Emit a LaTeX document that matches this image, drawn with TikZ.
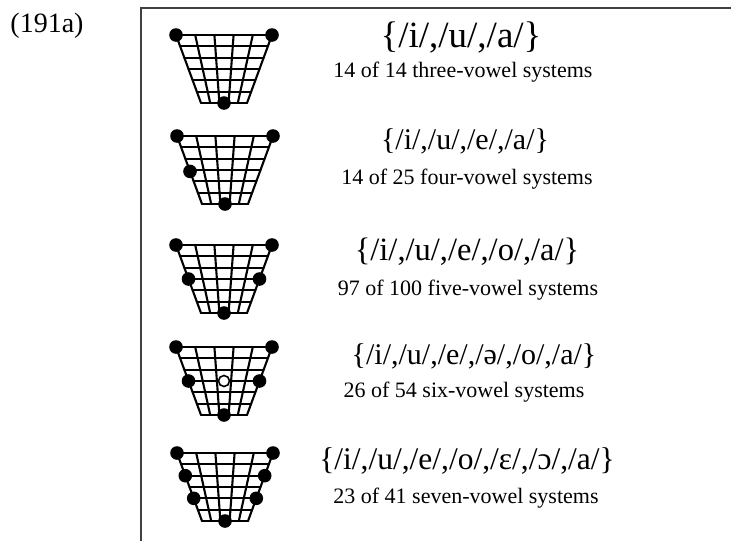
\documentclass[tikz,border=0pt]{standalone}
\usepackage{fontspec}
\setmainfont{Liberation Serif}
\newcommand\vowelgrid[2]{%
  \begin{scope}[shift={(#1,#2)}]
    \foreach \i in {0,...,6} {
      \draw[gridline] ({-48+25*\i/6},{68*\i/6}) -- ({48-25*\i/6},{68*\i/6});
    }
    \foreach \j in {0,...,5} {
      \draw[gridline] ({-48+96*\j/5},0) -- ({-23+46*\j/5},68);
    }
    \fill[vdot] (-48,0) circle (6.8);
    \fill[vdot] (48,0) circle (6.8);
    \fill[vdot] (0,68) circle (6.8);
  \end{scope}}
\begin{document}
\begin{tikzpicture}[x=1pt,y=-1pt,
  gridline/.style={line width=2.1pt,black,line cap=round},
  vdot/.style={black},
  odot/.style={fill=white,draw=black,line width=1.6pt},
  frameline/.style={line width=2pt,black!75},
  settitle/.style={anchor=base,font=\fontsize{30}{30}\selectfont,inner sep=0pt},
  setsub/.style={anchor=base,font=\fontsize{22}{22}\selectfont,inner sep=0pt},
  label/.style={anchor=base,font=\fontsize{28}{28}\selectfont,inner sep=0pt}]
\useasboundingbox (0,0) rectangle (731,541);
\fill[white] (0,0) rectangle (731,541);
\coordinate (fb) at (141,541);
\coordinate (ftl) at (141,8);
\coordinate (fr) at (731,8);
\draw[frameline] (fb) -- (ftl) -- (fr);
\node[label] (lab) at (47,32) {(191a)};

% row 1
\vowelgrid{224}{35}
\node[settitle,font=\fontsize{37}{37}\selectfont] (t1) at (461,47) {\{/i/,/u/,/a/\}};
\node[setsub] (s1) at (463,77) {14 of 14 three-vowel systems};

% row 2
\vowelgrid{225}{136}
\begin{scope}[shift={(225,136)}]
  \fill[vdot] (-35,35.4) circle (6.8);
\end{scope}
\node[settitle] (t2) at (465,149) {\{/i/,/u/,/e/,/a/\}};
\node[setsub] (s2) at (467,184) {14 of 25 four-vowel systems};

% row 3
\vowelgrid{224}{245}
\begin{scope}[shift={(224,245)}]
  \fill[vdot] (-35.5,34) circle (6.8);
  \fill[vdot] (35.5,34) circle (6.8);
\end{scope}
\node[settitle,font=\fontsize{32.5}{32.5}\selectfont] (t3) at (467,260) {\{/i/,/u/,/e/,/o/,/a/\}};
\node[setsub] (s3) at (468,295) {97 of 100 five-vowel systems};

% row 4
\vowelgrid{224}{347}
\begin{scope}[shift={(224,347)}]
  \fill[vdot] (-35.5,34) circle (6.8);
  \fill[vdot] (35.5,34) circle (6.8);
  \filldraw[odot] (0,34) circle (5.5);
\end{scope}
\node[settitle] (t4) at (474,364) {\{/i/,/u/,/e/,/ə/,/o/,/a/\}};
\node[setsub] (s4) at (464,397) {26 of 54 six-vowel systems};

% row 5
\vowelgrid{225}{453}
\begin{scope}[shift={(225,453)}]
  \fill[vdot] (-39.7,22.7) circle (6.8);
  \fill[vdot] (-31.3,45.3) circle (6.8);
  \fill[vdot] (39.7,22.7) circle (6.8);
  \fill[vdot] (31.3,45.3) circle (6.8);
\end{scope}
\node[settitle,font=\fontsize{31.5}{31.5}\selectfont] (t5) at (467,469) {\{/i/,/u/,/e/,/o/,/ɛ/,/ɔ/,/a/\}};
\node[setsub] (s5) at (466,503) {23 of 41 seven-vowel systems};
\end{tikzpicture}
\end{document}
